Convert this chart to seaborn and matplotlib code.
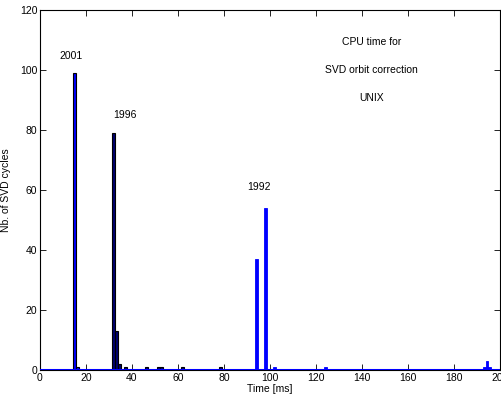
import numpy as np
import pandas as pd
import matplotlib
matplotlib.use('Agg')
import matplotlib.pyplot as plt
import seaborn as sns

# bin centres [ms] and counts
t_2001 = [14.7, 15.9]
n_2001 = [99, 1]

t_1996 = [31.8, 33.0, 34.3, 37.3, 46.5, 51.3, 52.6, 61.3, 78.2]
n_1996 = [79, 13, 2, 1, 1, 1, 1, 1, 1]

t_1992 = [94.7, 97.8, 101.7, 124.7, 192.7, 194.0, 195.3]
n_1992 = [37, 54, 1, 1, 1, 3, 1]

x_ticks = list(range(0, 201, 20))
y_ticks = list(range(0, 121, 20))

sns.set_style('ticks')
plt.rcParams['font.family'] = ['Liberation Sans', 'DejaVu Sans']
plt.rcParams['font.size'] = 7.5
plt.rcParams['text.color'] = 'black'
plt.rcParams['axes.labelcolor'] = 'black'

fig = plt.figure(figsize=(5.02, 3.99), dpi=100)
ax = fig.add_axes([40 / 502, 29 / 399, 460 / 502, 360 / 399])

d1 = pd.DataFrame({'t': t_2001, 'n': n_2001})
d2 = pd.DataFrame({'t': t_1996, 'n': n_1996})
d3 = pd.DataFrame({'t': t_1992, 'n': n_1992})

hkw = dict(x='t', weights='n', binwidth=1.3, binrange=(0, 200.2), ax=ax, alpha=1)
sns.histplot(data=d3, color='#0000ff', edgecolor='#0000ff', linewidth=0.6, **hkw)
sns.histplot(data=d2, color='#000070', edgecolor='black', linewidth=0.8, **hkw)
sns.histplot(data=d1, color='#0000ff', edgecolor='black', linewidth=0.8, **hkw)

# baseline like matlab hist
ax.axhline(0, color='#0000ff', linewidth=2.2, zorder=5)

ax.text(13.3, 103, '2001', ha='center', va='bottom')
ax.text(37, 83.5, '1996', ha='center', va='bottom')
ax.text(95, 59.5, '1992', ha='center', va='bottom')
ax.text(144, 109.5, 'CPU time for', ha='center', va='center')
ax.text(144, 100, 'SVD orbit correction', ha='center', va='center')
ax.text(144, 90.7, 'UNIX', ha='center', va='center')

ax.set_xlim(0, 200)
ax.set_ylim(0, 120)
ax.set_xticks(x_ticks)
ax.set_yticks(y_ticks)
ax.set_xlabel('Time [ms]', labelpad=1)
ax.set_ylabel('Nb. of SVD cycles', labelpad=6)
ax.tick_params(direction='in', length=4, width=0.6, top=True, right=True,
               labelsize=7.5, pad=2, colors='black')
for s in ax.spines.values():
    s.set_visible(True)
    s.set_linewidth(0.8)
    s.set_color('black')

fig.savefig('out.png', dpi=100)
